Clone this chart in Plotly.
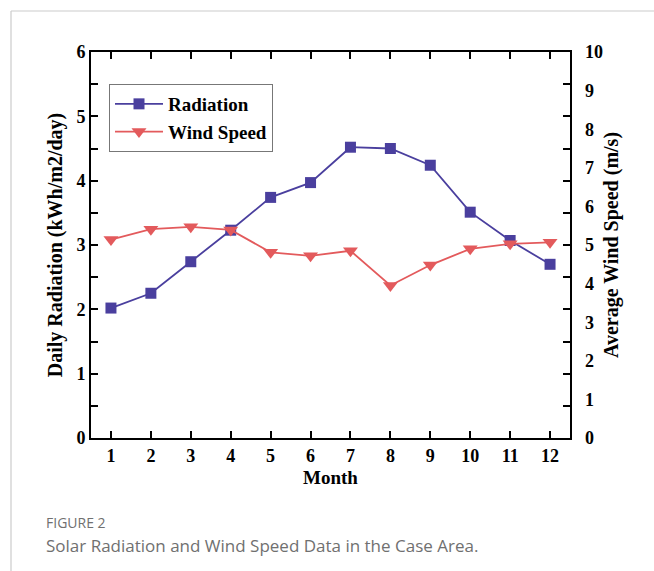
import plotly.graph_objects as go

months = list(range(1, 13))
radiation = [2.02, 2.25, 2.74, 3.23, 3.74, 3.97, 4.52, 4.50, 4.24, 3.51, 3.07, 2.70]
wind_speed = [5.14, 5.41, 5.47, 5.39, 4.81, 4.72, 4.85, 3.95, 4.48, 4.90, 5.03, 5.07]

BLUE = "#4a3f9e"
RED = "#e35a5c"
SERIF = "Liberation Serif"

W, H = 654, 571
L, R, T, B = 91, 84, 52, 133
pw, ph = W - L - R, H - T - B

def px_x(x):
    return (x - L) / pw

def px_y(y):
    return (H - B - y) / ph

fig = go.Figure()
fig.add_trace(go.Scatter(
    x=months, y=radiation, name="<b>Radiation</b>", mode="lines+markers",
    line=dict(color=BLUE, width=1.8),
    marker=dict(symbol="square", size=11, color=BLUE),
))
fig.add_trace(go.Scatter(
    x=months, y=wind_speed, name="<b>Wind Speed</b>", mode="lines+markers", yaxis="y2",
    line=dict(color=RED, width=1.8),
    marker=dict(symbol="triangle-down", size=13, color=RED),
))

axis_font = dict(family=SERIF, size=18, color="black")
fig.update_layout(
    width=W, height=H,
    margin=dict(l=L, r=R, t=T, b=B),
    paper_bgcolor="white", plot_bgcolor="white",
    showlegend=True,
    legend=dict(
        x=px_x(109), y=px_y(84), xanchor="left", yanchor="top",
        bgcolor="white", bordercolor="#777", borderwidth=1,
        font=dict(family=SERIF, size=19, color="black"),
        tracegroupgap=0, itemwidth=48,
    ),
    xaxis=dict(
        range=[0.5, 12.5], tickvals=months, ticktext=["<b>%d</b>" % m for m in months],
        showline=True, linecolor="black", linewidth=2, mirror="ticks",
        ticks="inside", ticklen=7, tickwidth=1.5, tickcolor="black",
        showgrid=False, zeroline=False,
        tickfont=axis_font,
        title=dict(text="<b>Month</b>", font=dict(family=SERIF, size=19, color="black"), standoff=6),
    ),
    yaxis=dict(
        range=[0, 6], tickvals=[0, 1, 2, 3, 4, 5, 6],
        ticktext=["<b>%d</b>" % v for v in range(7)],
        showline=True, linecolor="black", linewidth=2, mirror="ticks",
        ticks="inside", ticklen=7, tickwidth=1.5, tickcolor="black",
        minor=dict(dtick=0.5, ticks="inside", ticklen=7, tickwidth=1.5, tickcolor="black", showgrid=False),
        showgrid=False, zeroline=False,
        tickfont=axis_font,
        title=dict(text="<b>Daily Radiation (kWh/m2/day)</b>", font=dict(family=SERIF, size=20, color="black"), standoff=8),
    ),
    yaxis2=dict(
        range=[0, 10], tickvals=list(range(11)),
        ticktext=["<b>%d</b>" % v for v in range(11)],
        overlaying="y", side="right", showline=False, ticks="",
        ticklabelstandoff=14,
        showgrid=False, zeroline=False,
        tickfont=axis_font,
        title=dict(text="<b>Average Wind Speed (m/s)</b>", font=dict(family=SERIF, size=20, color="black"), standoff=1),
    ),
)

# card border lines
fig.add_shape(type="line", xref="paper", yref="paper",
              x0=px_x(11), x1=px_x(654), y0=px_y(11), y1=px_y(11),
              line=dict(color="#cccccc", width=1.2))
fig.add_shape(type="line", xref="paper", yref="paper",
              x0=px_x(11), x1=px_x(11), y0=px_y(11), y1=px_y(571),
              line=dict(color="#cccccc", width=1.2))

fig.add_annotation(text="FIGURE 2", xref="paper", yref="paper",
                   x=px_x(44), y=px_y(522), xanchor="left", yanchor="middle",
                   showarrow=False, font=dict(family="Open Sans", size=14, color="#707070"))
fig.add_annotation(text="Solar Radiation and Wind Speed Data in the Case Area.", xref="paper", yref="paper",
                   x=px_x(44), y=px_y(545), xanchor="left", yanchor="middle",
                   showarrow=False, font=dict(family="Open Sans", size=17, color="#707070"))

fig.write_html("out.html", config={"displayModeBar": False},
               post_script="document.body.style.margin='0';document.body.style.overflow='hidden';")
